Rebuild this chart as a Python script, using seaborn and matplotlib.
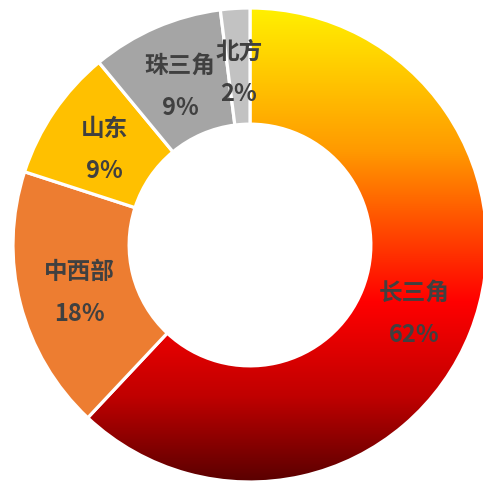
import numpy as np
import matplotlib
matplotlib.use("Agg")
import matplotlib.pyplot as plt
import seaborn as sns
from matplotlib.colors import LinearSegmentedColormap

regions = ["长三角", "中西部", "山东", "珠三角", "北方"]
shares = [62, 18, 9, 9, 2]
colors = ["#FF0000", "#ED7D31", "#FFC000", "#A5A5A5", "#C2C2C2"]

sns.set_theme(style="white")
plt.rcParams['font.family'] = ['Noto Sans CJK SC', 'DejaVu Sans']

W, H, R = 483, 482, 237.0
cx, cy = 250, 245  # pixel centre (from top-left)

fig = plt.figure(figsize=(W / 100, H / 100), dpi=100)
ax = fig.add_axes([0, 0, 1, 1])
ax.axis("off")

ring = 0.49
wedges, _ = ax.pie(shares, colors=colors, startangle=90, counterclock=False,
                   radius=1.0, wedgeprops=dict(width=ring, edgecolor="white", linewidth=2.3))

# vertical gradient for the big slice
grad_cmap = LinearSegmentedColormap.from_list(
    "grad", [(0.0, "#FFF000"), (0.3, "#FF9A00"), (0.62, "#FF0000"), (0.82, "#C00000"), (1.0, "#5A0000")])
big = wedges[0]
big.set_facecolor("none")
img = ax.imshow(np.linspace(0, 1, 256).reshape(-1, 1), cmap=grad_cmap, aspect="auto",
                extent=(-1, 1, -1, 1), origin="upper", zorder=big.get_zorder() - 0.1)
img.set_clip_path(big)
ax.set_xlim(-cx / R, (W - cx) / R)
ax.set_ylim(-(H - cy) / R, cy / R)
ax.set_aspect("auto")

# labels
total = sum(shares)
cum = 0
lab_r = 0.745
off = 21 / R
shift = -4 / R
for name, v in zip(regions, shares):
    mid = 90 - (cum + v / 2) / total * 360
    cum += v
    x = lab_r * np.cos(np.radians(mid))
    y = lab_r * np.sin(np.radians(mid)) + shift
    ax.text(x, y + off, name, ha="center", va="center", fontsize=17,
            fontweight="bold", color="#404040")
    ax.text(x, y - off, f"{v}%", ha="center", va="center", fontsize=17,
            fontweight="bold", color="#404040")

fig.savefig("out.png", dpi=100)
